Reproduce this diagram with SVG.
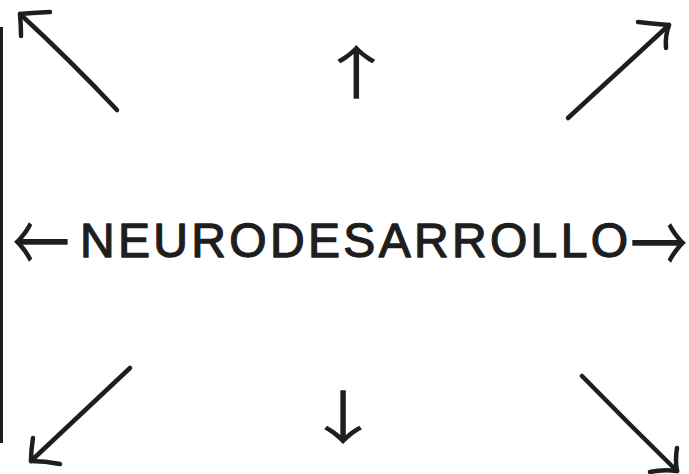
<svg xmlns="http://www.w3.org/2000/svg" width="689" height="474" viewBox="0 0 689 474">
<style>
.ln{fill:none;stroke:#1e1e1e;stroke-width:4.5;stroke-linecap:round;stroke-linejoin:round}
.tx{font-family:"Liberation Sans",Arial,sans-serif;fill:#1e1e1e;stroke:#1e1e1e;stroke-width:1.3;stroke-linejoin:round}
.ar{font-family:"Noto Sans CJK JP","DejaVu Sans",sans-serif;fill:#1e1e1e}
</style>
<rect width="689" height="474" fill="#ffffff"/>
<g id="left-bar"><rect x="0" y="27" width="3" height="416" fill="#1e1e1e"/></g>
<g id="title">
<text class="ar" x="12" y="264" font-size="58" transform="translate(0,242) scale(1,1.45) translate(0,-242)">←</text>
<text class="tx" x="80" y="257" font-size="48" textLength="548" lengthAdjust="spacing">NEURODESARROLLO</text>
<text class="ar" x="630" y="265" font-size="58" transform="translate(0,243) scale(1,1.45) translate(0,-243)">→</text>
</g>
<g id="arrow-up"><text class="ar" x="327" y="94" font-size="58" transform="translate(355,0) scale(1.4,1) translate(-355,0)">↑</text></g>
<g id="arrow-down"><text class="ar" x="314" y="439" font-size="58" transform="translate(343,0) scale(1.4,1) translate(-343,0)">↓</text></g>
<g id="connectors">
<path class="ln" d="M117 110 Q70 60 20 14"/>
<path class="ln" d="M50 12 Q30 13 20 14 Q21 25 21 36"/>
<path class="ln" d="M568 118 Q620 70 669 25"/>
<path class="ln" d="M638 22 Q655 24 669 25 Q665 36 666 48"/>
<path class="ln" d="M130 368 Q80 415 31 461"/>
<path class="ln" d="M33 438 Q31 450 31 461 Q45 461 60 464"/>
<path class="ln" d="M582 376 Q630 425 677 471"/>
<path class="ln" d="M677 448 Q675 460 677 471 Q663 469 650 472"/>
</g>
</svg>
